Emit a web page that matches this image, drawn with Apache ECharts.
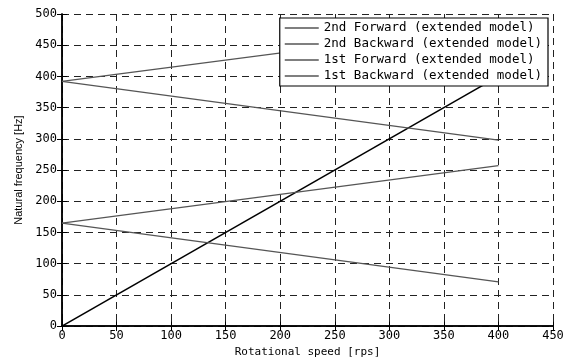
<!DOCTYPE html>
<html>
<head>
<meta charset="utf-8">
<script src="https://cdn.jsdelivr.net/npm/echarts@6/dist/echarts.min.js"></script>
<style>
  html, body { margin: 0; padding: 0; background: #fff; }
  #chart { width: 581px; height: 363px; }
</style>
</head>
<body>
<div id="chart"></div>
<script>
// rotational speed [rps]
const speed = [0, 400];
// natural frequencies [Hz]
const fwd2 = [392, 483];
const bwd2 = [392, 298];
const fwd1 = [165, 257];
const bwd1 = [165, 71];
// 1x excitation line
const excite = [0, 400];

function pairs(ys) {
  return speed.map((x, i) => [x, ys[i]]);
}

let myChart = echarts.init(document.getElementById('chart'));

const mono = 'DejaVu Sans Mono';
const grid = { type: [7, 5], color: '#222', width: 1 };

myChart.setOption({
  animation: false,
  grid: { left: 62, right: 28, top: 14, bottom: 35 },
  legend: {
    right: 33,
    top: 18,
    orient: 'vertical',
    data: ['2nd Forward (extended model)', '2nd Backward (extended model)',
           '1st Forward (extended model)', '1st Backward (extended model)'],
    icon: 'rect',
    itemWidth: 34,
    itemHeight: 1.3,
    itemGap: 2,
    padding: [3, 6, 3, 5],
    backgroundColor: '#fff',
    borderColor: '#000',
    borderWidth: 1.2,
    borderRadius: 0,
    textStyle: { fontFamily: mono, fontSize: 12.5, color: '#000', lineHeight: 14 }
  },
  xAxis: [
    {
      type: 'value',
      min: 0, max: 450, interval: 50,
      name: 'Rotational speed [rps]',
      nameLocation: 'middle',
      nameGap: 18,
      nameTextStyle: { fontFamily: mono, fontSize: 11, color: '#000' },
      axisLine: { lineStyle: { color: '#000', width: 1.5 } },
      axisTick: { inside: true, length: 5, lineStyle: { color: '#000' } },
      axisLabel: { fontFamily: mono, fontSize: 12, color: '#000', margin: 4 },
      splitLine: { show: true, lineStyle: grid }
    },
    {
      type: 'value', position: 'top',
      min: 0, max: 450, interval: 50,
      axisLine: { lineStyle: { color: '#000', width: 1.5 } },
      axisTick: { inside: true, length: 5, lineStyle: { color: '#000' } },
      axisLabel: { show: false },
      splitLine: { show: false }
    }
  ],
  yAxis: [
    {
      type: 'value',
      min: 0, max: 500, interval: 50,
      name: 'Natural frequency [Hz]',
      nameLocation: 'middle',
      nameGap: 36,
      nameTextStyle: { fontFamily: 'Liberation Sans', fontSize: 11, color: '#000' },
      axisLine: { show: true, lineStyle: { color: '#000', width: 1.5 } },
      axisTick: { show: true, inside: true, length: 5, lineStyle: { color: '#000' } },
      axisLabel: { fontFamily: mono, fontSize: 12, color: '#000', margin: 5 },
      splitLine: { show: true, lineStyle: grid }
    },
    {
      type: 'value', position: 'right',
      min: 0, max: 500, interval: 50,
      axisLine: { show: true, lineStyle: { color: '#000', width: 1.5 } },
      axisTick: { show: true, inside: true, length: 5, lineStyle: { color: '#000' } },
      axisLabel: { show: false },
      splitLine: { show: false }
    }
  ],
  series: [
    {
      name: '1x',
      type: 'line',
      data: pairs(excite),
      symbol: 'none',
      lineStyle: { color: '#000', width: 1.6 },
      itemStyle: { color: '#000' }
    },
    {
      name: '2nd Forward (extended model)',
      type: 'line',
      data: pairs(fwd2),
      symbol: 'none',
      lineStyle: { color: '#555', width: 1.2 },
      itemStyle: { color: '#555' }
    },
    {
      name: '2nd Backward (extended model)',
      type: 'line',
      data: pairs(bwd2),
      symbol: 'none',
      lineStyle: { color: '#555', width: 1.2 },
      itemStyle: { color: '#555' }
    },
    {
      name: '1st Forward (extended model)',
      type: 'line',
      data: pairs(fwd1),
      symbol: 'none',
      lineStyle: { color: '#555', width: 1.2 },
      itemStyle: { color: '#555' }
    },
    {
      name: '1st Backward (extended model)',
      type: 'line',
      data: pairs(bwd1),
      symbol: 'none',
      lineStyle: { color: '#555', width: 1.2 },
      itemStyle: { color: '#555' }
    }
  ]
});
</script>
</body>
</html>
